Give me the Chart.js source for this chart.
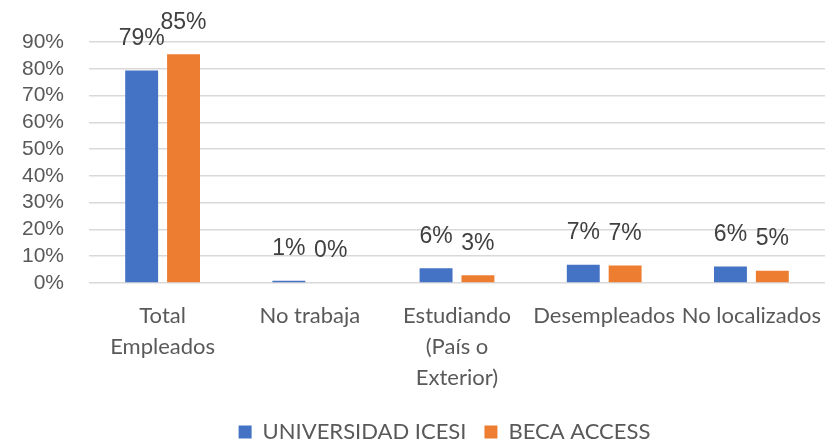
<!DOCTYPE html>
<html>
<head>
<meta charset="utf-8">
<script src="https://cdn.jsdelivr.net/npm/chart.js@4/dist/chart.umd.min.js"></script>
<style>
  html, body { margin: 0; padding: 0; background: #fff; }
  #wrap { width: 825px; height: 441px; }
</style>
</head>
<body>
<div id="wrap"><canvas id="chartSituacion"></canvas></div>
<script>
/* datos de la grafica */
const categorias = [
  ["Total", "Empleados"],
  "No trabaja",
  ["Estudiando", "(País o", "Exterior)"],
  "Desempleados",
  "No localizados"
];
const universidadIcesi = [79.4, 0.8, 5.5, 6.8, 6.2];
const becaAccess = [85.4, 0, 2.9, 6.5, 4.6];
const ejeYMax = 90;
const ejeYPaso = 10;

const AZUL = "#4472C4";
const NARANJA = "#ED7D31";
const GRIS_TEXTO = "#595959";
const FUENTE_CAT = "Lato, 'Liberation Sans', sans-serif";
const FUENTE_NUM = "'Liberation Sans', Arial, sans-serif";

/* etiquetas de valor encima de cada barra */
const etiquetasValor = {
  id: "etiquetasValor",
  afterDatasetsDraw(chart) {
    const ctx = chart.ctx;
    ctx.save();
    ctx.font = "23px " + FUENTE_NUM;
    ctx.fillStyle = "#404040";
    ctx.textAlign = "center";
    ctx.textBaseline = "middle";
    chart.data.datasets.forEach((ds, i) => {
      const meta = chart.getDatasetMeta(i);
      meta.data.forEach((barra, j) => {
        ctx.fillText(Math.round(ds.data[j]) + "%", barra.x, barra.y - 32);
      });
    });
    ctx.restore();
  }
};

/* la leyenda ocupa poco alto y se corre un poco a la derecha como en el original */
const ajusteLeyenda = {
  id: "ajusteLeyenda",
  beforeLayout(chart) {
    const leyenda = chart.legend;
    if (leyenda && !leyenda._envuelto) {
      const fitOriginal = leyenda.fit;
      leyenda.fit = function () {
        fitOriginal.call(this);
        this.height = 20;
      };
      leyenda._envuelto = true;
    }
  },
  afterLayout(chart) {
    const leyenda = chart.legend;
    if (!leyenda) return;
    const pad = leyenda.options.labels.padding;
    leyenda.top = 432 - 11 - pad;
    leyenda.bottom = chart.height;
    leyenda.height = leyenda.bottom - leyenda.top;
    leyenda.left += 32;
    leyenda.right += 32;
  }
};

const canvas = document.getElementById("chartSituacion");
const context = canvas.getContext("2d");

const chartSituacion = new Chart(context, {
  type: "bar",
  data: {
    labels: categorias,
    datasets: [
      {
        label: "UNIVERSIDAD ICESI",
        data: universidadIcesi,
        backgroundColor: AZUL,
        barPercentage: 0.786,
        categoryPercentage: 0.569,
      },
      {
        label: "BECA ACCESS",
        data: becaAccess,
        backgroundColor: NARANJA,
        barPercentage: 0.786,
        categoryPercentage: 0.569,
      },
    ],
  },
  options: {
    responsive: true,
    maintainAspectRatio: false,
    animation: false,
    layout: { padding: { top: 42, left: 0, right: 0, bottom: 0 } },
    plugins: {
      tooltip: { enabled: false },
      legend: {
        position: "bottom",
        labels: {
          boxWidth: 13,
          boxHeight: 13,
          padding: 18,
          color: GRIS_TEXTO,
          font: { family: FUENTE_CAT, size: 22 },
        },
      },
    },
    scales: {
      x: {
        afterFit: (scale) => {
          scale.paddingLeft = 0;
          scale.paddingRight = 0;
          scale.height = scale.chart.height - 283 - 20;
        },
        grid: { display: false, drawTicks: false },
        border: { display: false },
        ticks: {
          autoSkip: false,
          maxRotation: 0,
          padding: 18,
          color: GRIS_TEXTO,
          font: { family: FUENTE_CAT, size: 22, lineHeight: 1.4 },
        },
      },
      y: {
        min: 0,
        max: ejeYMax,
        afterFit: (scale) => { scale.width = 89; },
        grid: { color: "#d9d9d9", lineWidth: 1.5, drawTicks: false },
        border: { display: false },
        ticks: {
          stepSize: ejeYPaso,
          autoSkip: false,
          padding: 25,
          color: GRIS_TEXTO,
          font: { family: FUENTE_NUM, size: 21 },
          callback: (v) => v + "%",
        },
      },
    },
  },
  plugins: [etiquetasValor, ajusteLeyenda],
});
</script>
</body>
</html>
